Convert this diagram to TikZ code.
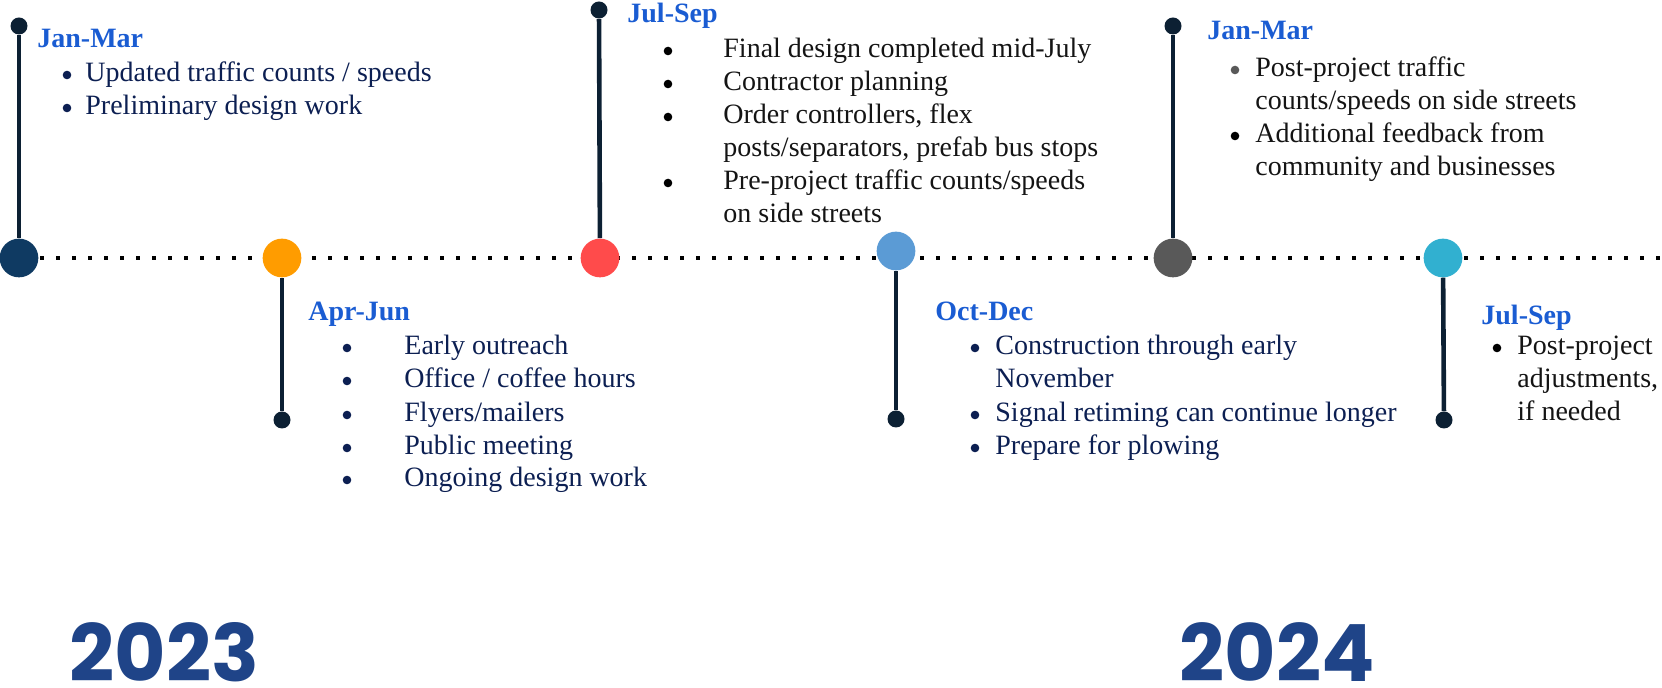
\documentclass[tikz,border=0pt]{standalone}
\usepackage{fontspec}
\setmainfont{Liberation Serif}
\newfontfamily\yearfont{Poppins}
\usetikzlibrary{positioning}
\definecolor{stemcol}{HTML}{0C2033}
\definecolor{navycirc}{HTML}{0F3A62}
\definecolor{orangecirc}{HTML}{FF9C00}
\definecolor{redcirc}{HTML}{FF4B4B}
\definecolor{bluecirc}{HTML}{5B9BD5}
\definecolor{graycirc}{HTML}{595959}
\definecolor{cyancirc}{HTML}{31B0D0}
\definecolor{headblue}{HTML}{1A5CD2}
\definecolor{navytext}{HTML}{0C1F52}
\definecolor{darktext}{HTML}{141414}
\definecolor{yearblue}{HTML}{1F4488}
\newcommand\lines[1]{\begin{tabular}[t]{@{}l@{}}#1\end{tabular}}
\tikzset{every node/.style = {inner sep = 0pt},
         big/.style = {circle, minimum size = 19.35pt},
         pin/.style = {circle, fill = stemcol, minimum size = 8.5pt},
         stem/.style = {draw = stemcol, line width = 2.3pt},
         timeline/.style = {draw = black, line width = 1.75pt,
                            dash pattern = on 1.75pt off 6.25pt},
         head/.style = {anchor = base west, text = headblue,
                        font = \fontsize{14}{16.5}\selectfont\bfseries},
         item/.style = {anchor = base west,
                        font = \fontsize{14}{16.5}\selectfont},
         bul/.style = {circle, minimum size = 4.3pt},
         year/.style = {anchor = base west, text = yearblue, text depth = 0pt,
                        font = \yearfont\bfseries\fontsize{39.5}{40}\selectfont}}

\begin{document}
\begin{tikzpicture}[x = 0.5pt, y = -0.5pt]
        \useasboundingbox (0,0) rectangle (1662,688);

        % dotted time line
        \coordinate (tl0) at (8,258);
        \coordinate (tl1) at (1662,258);
        \draw[timeline] (tl0) -- (tl1);

        % quarters
        \node[big, fill = navycirc]   (c1) at (19,258)   {};
        \node[big, fill = orangecirc] (c2) at (282,258)  {};
        \node[big, fill = redcirc]    (c3) at (600,258)  {};
        \node[big, fill = bluecirc]   (c4) at (896,251)  {};
        \node[big, fill = graycirc]   (c5) at (1173,258) {};
        \node[big, fill = cyancirc]   (c6) at (1443,258) {};

        \node[pin] (d1) at (19,26)   {};
        \node[pin] (d2) at (282,420) {};
        \node[pin] (d3) at (599,10)  {};
        \node[pin] (d4) at (896,419) {};
        \node[pin] (d5) at (1173,26) {};
        \node[pin] (d6) at (1444,420) {};

        \foreach \i in {1,...,6}
            \draw[stem] (d\i) -- (c\i);

        % Jan-Mar 2023
        \node[head] (h1) at (37,48) {Jan-Mar};
        \foreach \y in {82,115}
            \node[bul, fill = navytext] at (67,\y-7) {};
        \node[item, text = navytext] (i11) at (85,82)  {Updated traffic counts / speeds};
        \node[item, text = navytext] (i12) at (85,115) {Preliminary design work};

        % Apr-Jun 2023
        \node[head] (h2) at (308,321) {Apr-Jun};
        \foreach \y in {355,388,422,455,487}
            \node[bul, fill = navytext] at (347,\y-7) {};
        \node[item, text = navytext] (i21) at (404,355) {Early outreach};
        \node[item, text = navytext] (i22) at (404,388) {Office / coffee hours};
        \node[item, text = navytext] (i23) at (404,422) {Flyers/mailers};
        \node[item, text = navytext] (i24) at (404,455) {Public meeting};
        \node[item, text = navytext] (i25) at (404,487) {Ongoing design work};

        % Jul-Sep 2023
        \node[head] (h3) at (627,23) {Jul-Sep};
        \foreach \y in {58,91,124,190}
            \node[bul, fill = black] at (668,\y-7) {};
        \node[item, text = darktext] (i31) at (723,58)  {Final design completed mid-July};
        \node[item, text = darktext] (i32) at (723,91)  {Contractor planning};
        \node[item, text = darktext] (i33) at (723,124) {\lines{Order controllers, flex\\posts/separators, prefab bus stops}};
        \node[item, text = darktext] (i34) at (723,190) {\lines{Pre-project traffic counts/speeds\\on side streets}};

        % Oct-Dec 2023
        \node[head] (h4) at (935,321) {Oct-Dec};
        \foreach \y in {355,422,455}
            \node[bul, fill = navytext] at (975,\y-7) {};
        \node[item, text = navytext] (i41) at (995,355) {\lines{Construction through early\\November}};
        \node[item, text = navytext] (i42) at (995,422) {Signal retiming can continue longer};
        \node[item, text = navytext] (i43) at (995,455) {Prepare for plowing};

        % Jan-Mar 2024
        \node[head] (h5) at (1207,40) {Jan-Mar};
        \node[bul, fill = graycirc] at (1235,70)  {};
        \node[bul, fill = black]    at (1235,136) {};
        \node[item, text = darktext] (i51) at (1255,77)  {\lines{Post-project traffic\\counts/speeds on side streets}};
        \node[item, text = darktext] (i52) at (1255,143) {\lines{Additional feedback from\\community and businesses}};

        % Jul-Sep 2024
        \node[head] (h6) at (1481,325) {Jul-Sep};
        \node[bul, fill = black] at (1497,348) {};
        \node[item, text = darktext] (i61) at (1517,355) {\lines{Post-project\\adjustments,\\if needed}};

        % years
        \node[year] (y1) at (69,682)   {2023};
        \node[year] (y2) at (1179,682) {2024};
    \end{tikzpicture}
\end{document}
